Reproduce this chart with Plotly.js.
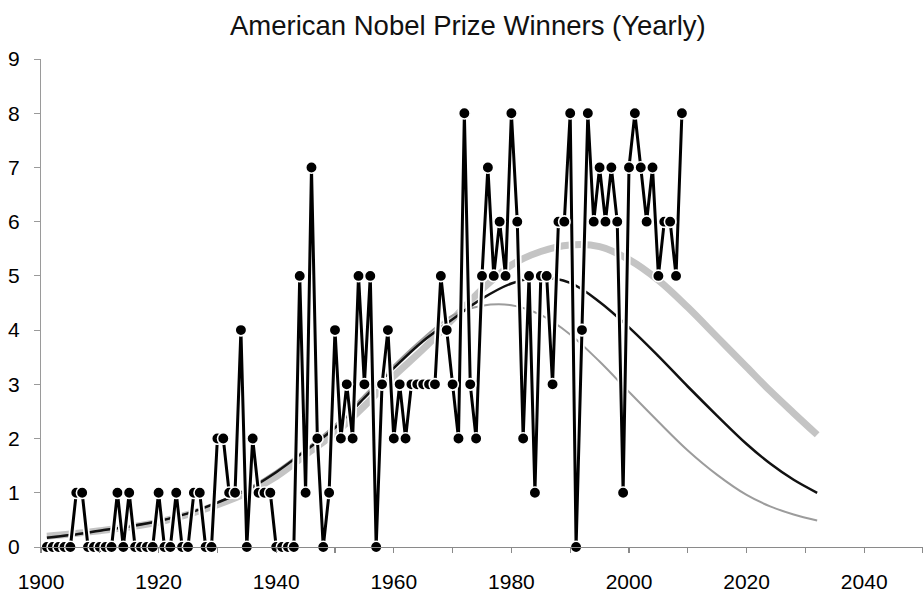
<!DOCTYPE html>
<html>
<head>
<meta charset="utf-8">
<script src="https://cdn.plot.ly/plotly-3.0.1.min.js"></script>
<style>html,body{margin:0;padding:0;background:#fff}#chart{width:923px;height:596px}</style>
</head>
<body>
<div id="chart"></div>
<script>
// Yearly counts of American Nobel Prize winners, 1901-2009
var years = [];
for (var y = 1901; y <= 2009; y++) years.push(y);
var winners = [
  0,0,0,0,0, 1,1, 0,0,0,0,0, 1,0,1, 0,0,0,0,        // 1901-1919
  1,0,0,1,0,0,1,1,0,0,                              // 1920-1929
  2,2,1,1,4,0,2,1,1,1,                              // 1930-1939
  0,0,0,0,5,1,7,2,0,1,                              // 1940-1949
  4,2,3,2,5,3,5,0,3,4,                              // 1950-1959
  2,3,2,3,3,3,3,3,5,4,                              // 1960-1969
  3,2,8,3,2,5,7,5,6,5,                              // 1970-1979
  8,6,2,5,1,5,5,3,6,6,                              // 1980-1989
  8,0,4,8,6,7,6,7,6,1,                              // 1990-1999
  7,8,7,6,7,5,6,6,5,8                               // 2000-2009
];

// Fitted curves
var curveYears = [1901,1905,1910,1915,1920,1925,1930,1935,1940,1945,1950,1955,1960,1965,1970,1975,1980,1985,1990,1995,2000,2005,2010,2015,2020,2024,2028,2032];
var fitWide   = [0.20,0.24,0.30,0.37,0.46,0.60,0.78,1.00,1.30,1.70,2.10,2.60,3.15,3.65,4.20,4.75,5.20,5.45,5.57,5.54,5.30,4.92,4.42,3.87,3.32,2.88,2.47,2.07];
var fitMid    = [0.17,0.22,0.30,0.38,0.48,0.62,0.82,1.05,1.38,1.78,2.20,2.75,3.30,3.80,4.20,4.58,4.86,4.97,4.87,4.52,4.05,3.52,2.96,2.42,1.90,1.54,1.24,1.00];
var fitNarrow = [0.18,0.22,0.30,0.38,0.48,0.62,0.82,1.07,1.40,1.80,2.25,2.80,3.35,3.85,4.27,4.45,4.46,4.28,3.92,3.42,2.86,2.31,1.78,1.33,0.96,0.75,0.60,0.49];

var titleText = "American Nobel Prize Winners (Yearly)";
var xTickVals = [1900,1920,1940,1960,1980,2000,2020,2040];
var yTickVals = [0,1,2,3,4,5,6,7,8,9];

var traces = [
  {x: curveYears, y: fitWide, mode: 'lines', line: {color: '#c4c4c4', width: 7, shape: 'spline', smoothing: 1}, hoverinfo: 'skip', cliponaxis: false},
  {x: curveYears, y: fitNarrow, mode: 'lines', line: {color: '#9c9c9c', width: 2, shape: 'spline', smoothing: 1}, hoverinfo: 'skip', cliponaxis: false},
  {x: curveYears, y: fitMid, mode: 'lines', line: {color: '#111111', width: 2.5, shape: 'spline', smoothing: 1}, hoverinfo: 'skip', cliponaxis: false},
  {x: years, y: winners, mode: 'lines', line: {color: '#ffffff', width: 6.5}, hoverinfo: 'skip', cliponaxis: false},
  {x: years, y: winners, mode: 'lines+markers', line: {color: '#000000', width: 3},
   marker: {color: '#000000', size: 11.5, line: {color: '#ffffff', width: 1.6}}, cliponaxis: false}
];

var layout = {
  width: 923, height: 596,
  paper_bgcolor: '#ffffff', plot_bgcolor: '#ffffff',
  showlegend: false,
  font: {family: '"Liberation Sans", Arial, sans-serif', color: '#000000', size: 21},
  margin: {l: 41, r: 0, t: 59, b: 49},
  title: {text: titleText, font: {size: 27.5, color: '#111111'}, x: 0.484, xanchor: 'center', xref: 'paper', y: 0.957, yref: 'container', yanchor: 'middle'},
  xaxis: {
    range: [1900, 2050], tickvals: xTickVals, ticktext: xTickVals.map(String),
    showgrid: false, zeroline: false, showline: true, linecolor: '#8a8a8a', linewidth: 1.2,
    ticks: 'outside', ticklen: 5, tickcolor: '#8a8a8a', tickwidth: 1.2,
    minor: {dtick: 10, tick0: 1900, ticks: 'outside', ticklen: 5, tickcolor: '#8a8a8a', tickwidth: 1.2, showgrid: false},
    ticklabelstandoff: 11, tickfont: {size: 21}, fixedrange: true
  },
  yaxis: {
    range: [0, 9], tickvals: yTickVals, ticktext: yTickVals.map(String),
    showgrid: false, zeroline: false, showline: true, linecolor: '#9a9a9a', linewidth: 1,
    ticks: 'outside', ticklen: 6, tickcolor: '#9a9a9a', tickwidth: 1,
    ticklabelstandoff: 10, tickfont: {size: 21}, fixedrange: true
  }
};

Plotly.newPlot('chart', traces, layout, {displayModeBar: false, staticPlot: true});
</script>
</body>
</html>
